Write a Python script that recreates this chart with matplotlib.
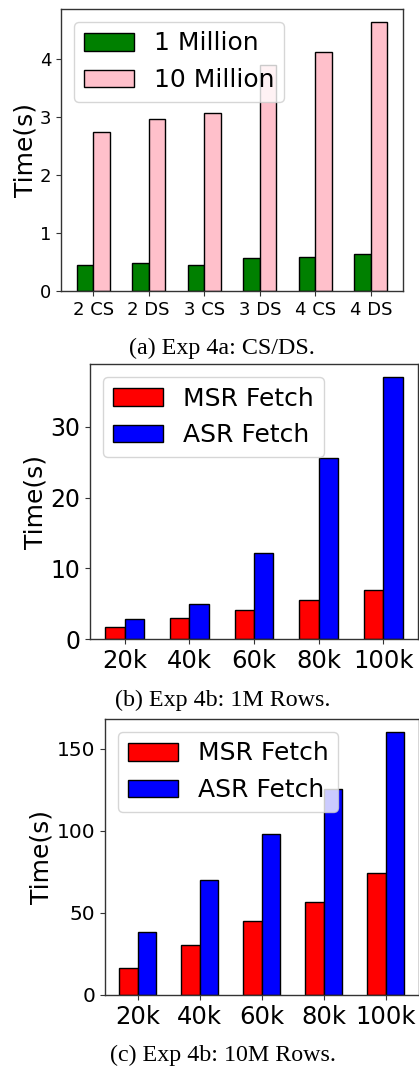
import numpy as np
import matplotlib
matplotlib.use('Agg')
import matplotlib.pyplot as plt

W, H = 419, 1067

# ── Data ──
cs_labels = ['2 CS', '2 DS', '3 CS', '3 DS', '4 CS', '4 DS']
cs_1m     = [0.45, 0.48, 0.45, 0.57, 0.58, 0.64]
cs_10m    = [2.74, 2.97, 3.07, 3.89, 4.12, 4.63]

fetch_labels = ['20k', '40k', '60k', '80k', '100k']
msr_1m  = [1.8, 3.0, 4.2, 5.6, 7.0]
asr_1m  = [2.8, 5.0, 12.2, 25.6, 37.0]
msr_10m = [16.2, 30.2, 45.3, 56.4, 74.3]
asr_10m = [38.2, 70.0, 98.0, 125.2, 160.1]

BAR_W = 0.3
AX_COLOR = '#333333'

def px_axes(left, top, right, bottom):
    return [left / W, (H - bottom) / H, (right - left) / W, (bottom - top) / H]

fig = plt.figure(figsize=(W / 100, H / 100), dpi=100)
fig.patch.set_facecolor('white')

def panel(rect, labels, s1, s2, names, colors, xt_fs, yt_fs, yticks=None):
    ax = fig.add_axes(rect)
    x = np.arange(len(labels))
    ax.bar(x - BAR_W / 2, s1, BAR_W, color=colors[0], edgecolor='black', label=names[0])
    ax.bar(x + BAR_W / 2, s2, BAR_W, color=colors[1], edgecolor='black', label=names[1])
    ax.set_xticks(x)
    ax.set_xticklabels(labels)
    ax.tick_params(axis='x', labelsize=xt_fs, color=AX_COLOR)
    ax.tick_params(axis='y', labelsize=yt_fs, color=AX_COLOR)
    for sp in ax.spines.values():
        sp.set_color(AX_COLOR)
        sp.set_linewidth(1.0)
    if yticks is not None:
        ax.set_yticks(yticks)
    ax.set_ylabel('Time(s)', fontsize=18, labelpad=2)
    ax.legend(loc='upper left', fontsize=18)
    return ax

# (a)
ax_a = panel(px_axes(61, 9, 403, 291), cs_labels, cs_1m, cs_10m,
             ['1 Million', '10 Million'], ['green', 'pink'], 13, 13)
# (b)
ax_b = panel(px_axes(90.3, 364, 417.6, 639.3), fetch_labels, msr_1m, asr_1m,
             ['MSR Fetch', 'ASR Fetch'], ['red', 'blue'], 17.5, 17, [0, 10, 20, 30])
# (c)
ax_c = panel(px_axes(105, 719, 418.7, 995), fetch_labels, msr_10m, asr_10m,
             ['MSR Fetch', 'ASR Fetch'], ['red', 'blue'], 17.5, 14.5, [0, 50, 100, 150])

# ── Captions ──
cap_font = dict(family=['Liberation Serif', 'DejaVu Serif'], fontsize=17.3,
                ha='center', va='center')
fig.text(222 / W, 1 - 348 / H, '(a) Exp 4a: CS/DS.', **cap_font)
fig.text(222.5 / W, 1 - 700 / H, '(b) Exp 4b: 1M Rows.', **cap_font)
fig.text(222.5 / W, 1 - 1055 / H, '(c) Exp 4b: 10M Rows.', **cap_font)

plt.savefig('out.png', dpi=100, facecolor='white')
plt.close()
